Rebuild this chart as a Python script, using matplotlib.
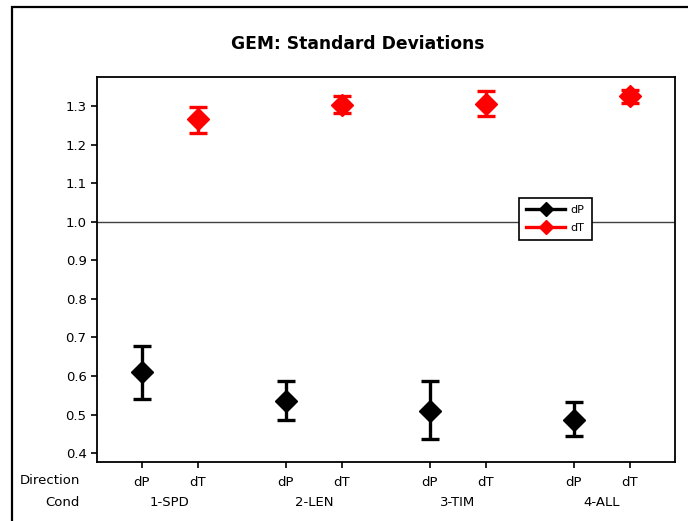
import numpy as np
import matplotlib.pyplot as plt
from matplotlib.lines import Line2D
from matplotlib.patches import Rectangle
from matplotlib.transforms import blended_transform_factory

conds = ['1-SPD', '2-LEN', '3-TIM', '4-ALL']
directions = ['dP', 'dT']

dp_mean = [0.611, 0.536, 0.509, 0.486]
dp_lo = [0.541, 0.486, 0.436, 0.444]
dp_hi = [0.678, 0.588, 0.588, 0.532]

dt_mean = [1.266, 1.303, 1.305, 1.326]
dt_lo = [1.230, 1.282, 1.274, 1.308]
dt_hi = [1.297, 1.326, 1.339, 1.341]

group_step = 2.57
x_dp = np.arange(len(conds)) * group_step
x_dt = x_dp + 1

fig = plt.figure(figsize=(6.88, 5.21), dpi=100)
# outer frame around the whole chart
fig.patches.append(Rectangle((12 / 688, -0.1), 1.0, 1 - 7 / 521 + 0.1,
                             transform=fig.transFigure, fill=False,
                             edgecolor='black', linewidth=1.6))

ax = fig.add_axes([97 / 688, 59 / 521, 578 / 688, 385 / 521])

ax.axhline(1.0, color='#404040', linewidth=1.0, zorder=1)

def draw(x, mean, lo, hi, color):
    mean = np.array(mean)
    yerr = [mean - np.array(lo), np.array(hi) - mean]
    ax.errorbar(x, mean, yerr=yerr, fmt='D', color=color, ecolor=color,
                markersize=11.5, elinewidth=2.4, capsize=6.5, capthick=2.4,
                zorder=3)

draw(x_dp, dp_mean, dp_lo, dp_hi, 'black')
draw(x_dt, dt_mean, dt_lo, dt_hi, '#ff0000')

ax.set_xlim(-0.80, 9.52)
ax.set_ylim(0.377, 1.375)
ax.set_yticks(np.arange(0.4, 1.31, 0.1))
ax.set_yticklabels([f'{v:.1f}' for v in np.arange(0.4, 1.31, 0.1)])

xt = np.sort(np.concatenate([x_dp, x_dt]))
ax.set_xticks(xt)
ax.set_xticklabels(directions * len(conds))
ax.tick_params(axis='both', direction='out', length=4, width=1.2,
               labelsize=9.5, colors='black')
ax.tick_params(axis='x', pad=6)
for s in ax.spines.values():
    s.set_linewidth(1.3)

trans = blended_transform_factory(ax.transData, ax.transAxes)
for xp, c in zip(x_dp, conds):
    ax.text(xp + 0.5, -41 / 385, c, transform=trans, ha='center',
            va='center', fontsize=9.5)

fig.text(80 / 688, 1 - 481 / 521, 'Direction', ha='right', va='center',
         fontsize=9.5)
fig.text(80 / 688, 1 - 503 / 521, 'Cond', ha='right', va='center',
         fontsize=9.5)

fig.text(358 / 688, 1 - 44 / 521, 'GEM: Standard Deviations', ha='center',
         va='center', fontsize=12.3, fontweight='bold')

handles = [Line2D([], [], color='black', marker='D', markersize=7,
                  linewidth=2.4),
           Line2D([], [], color='#ff0000', marker='D', markersize=7,
                  linewidth=2.4)]
leg = ax.legend(handles, directions, loc='upper left',
                bbox_to_anchor=((519 - 97) / 578, (462 - 198) / 385),
                fontsize=8, frameon=True, fancybox=False, handlelength=3.5,
                borderpad=0.65, labelspacing=0.7, handletextpad=0.5,
                borderaxespad=0)
leg.get_frame().set_edgecolor('black')
leg.get_frame().set_linewidth(1.2)
leg.get_frame().set_alpha(1)

fig.savefig('out.png', dpi=100)
